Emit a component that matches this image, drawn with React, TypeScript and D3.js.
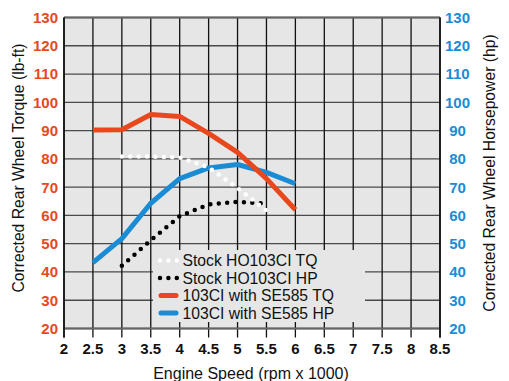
import React from "react";
import * as d3 from "d3";

const rpm = [2.5, 3, 3.5, 4, 4.5, 5, 5.5, 6];
const se585TQ = [90.2, 90.3, 95.7, 95.0, 89, 82.3, 73, 62];
const se585HP = [43.3, 51.8, 64.3, 73, 76.8, 78, 75.2, 71.2];
const stockRpm = [3, 3.5, 4, 4.5, 5, 5.5];
const stockTQ = [80.8, 80.8, 80.5, 77, 69.7, 61.7];
const stockHP = [42.2, 51.2, 59.7, 63.9, 64.8, 64.2];
const xTicks = [2, 2.5, 3, 3.5, 4, 4.5, 5, 5.5, 6, 6.5, 7, 7.5, 8, 8.5];
const yTicks = [20, 30, 40, 50, 60, 70, 80, 90, 100, 110, 120, 130];
const legendLabels = ["Stock HO103CI TQ", "Stock HO103CI HP", "103CI with SE585 TQ", "103CI with SE585 HP"];

const W = 509, H = 381;
const L = 64, R = 440, T = 17.5, B = 328.5;
const ORANGE = "#e8481c";
const BLUE = "#1a8bd5";
const FONT = "'Liberation Sans', Arial, sans-serif";

export default function App() {
  const x = d3.scaleLinear().domain([2, 8.5]).range([L, R]);
  const y = d3.scaleLinear().domain([20, 130]).range([B, T]);
  const line = d3.line<[number, number]>().x(d => x(d[0])).y(d => y(d[1]));
  const zip = (a: number[], b: number[]) => a.map((v, i) => [v, b[i]] as [number, number]);

  const legendX = 153, legendY = 250, legendW = 212, legendH = 72;
  const rows = [260.5, 278, 295.5, 313];

  return (
    <svg width={W} height={H} style={{ position: "absolute", left: 0, top: 0, background: "#fff" }} fontFamily={FONT}>
      <rect x={L} y={T} width={R - L} height={B - T} fill="#e6e6e6" />
      {yTicks.map(t => (
        <line key={"h" + t} x1={L} x2={R} y1={y(t)} y2={y(t)} stroke="#4a4a4a" strokeWidth={1.3} />
      ))}
      {xTicks.map(t => (
        <line key={"v" + t} x1={x(t)} x2={x(t)} y1={T} y2={B + 9} stroke="#111" strokeWidth={1.3} />
      ))}
      <line x1={L} x2={R} y1={T} y2={T} stroke="#666" strokeWidth={2} />
      <line x1={L} x2={R} y1={B} y2={B} stroke="#666" strokeWidth={2} />
      <line x1={L} x2={L} y1={T} y2={B + 9} stroke="#111" strokeWidth={1.6} />
      <line x1={R} x2={R} y1={T} y2={B + 9} stroke="#111" strokeWidth={1.6} />

      <path d={line(zip(rpm, se585HP)) || ""} fill="none" stroke={BLUE} strokeWidth={5} strokeLinejoin="round" />
      <path d={line(zip(rpm, se585TQ)) || ""} fill="none" stroke={ORANGE} strokeWidth={5} strokeLinejoin="round" />
      <path d={line(zip(stockRpm, stockHP)) || ""} fill="none" stroke="#000" strokeWidth={4.5} strokeLinecap="round" strokeDasharray="0 8.4" />
      <path d={line(zip(stockRpm, stockTQ)) || ""} fill="none" stroke="#fff" strokeWidth={4.5} strokeLinecap="round" strokeDasharray="0 8.4" />

      <rect x={legendX} y={legendY} width={legendW} height={legendH} fill="#e6e6e6" />
      {legendLabels.map((lab, i) => {
        const cy = rows[i];
        const sym = i === 0 ? (
          <line x1={160} x2={177} y1={cy} y2={cy} stroke="#fff" strokeWidth={4.5} strokeLinecap="round" strokeDasharray="0 8.4" />
        ) : i === 1 ? (
          <line x1={160} x2={177} y1={cy} y2={cy} stroke="#000" strokeWidth={4.5} strokeLinecap="round" strokeDasharray="0 8.4" />
        ) : (
          <line x1={161} x2={176} y1={cy} y2={cy} stroke={i === 2 ? ORANGE : BLUE} strokeWidth={5} strokeLinecap="round" />
        );
        return (
          <g key={lab}>
            {sym}
            <text x={182.5} y={cy} dy="0.36em" fontSize={15.7} fill="#111">{lab}</text>
          </g>
        );
      })}

      {yTicks.map(t => (
        <text key={"yl" + t} x={58} y={y(t)} dy="0.36em" textAnchor="end" fontSize={15} fontWeight="bold" fill={ORANGE}>{t}</text>
      ))}
      {yTicks.map(t => (
        <text key={"yr" + t} x={457.5} y={y(t)} dy="0.36em" textAnchor="middle" fontSize={15} fontWeight="bold" fill={BLUE}>{t}</text>
      ))}
      {xTicks.map(t => (
        <text key={"xl" + t} x={x(t)} y={349} dy="0.36em" textAnchor="middle" fontSize={15} fontWeight="bold" fill="#111">{t}</text>
      ))}

      <text x={251} y={373} dy="0.36em" textAnchor="middle" fontSize={16} fill="#111">Engine Speed (rpm x 1000)</text>
      <text transform={`translate(18,168) rotate(-90)`} dy="0.36em" textAnchor="middle" fontSize={15.7} fill="#111">Corrected Rear Wheel Torque (lb-ft)</text>
      <text transform={`translate(489,173) rotate(-90)`} dy="0.36em" textAnchor="middle" fontSize={15.7} fill="#111">Corrected Rear Wheel Horsepower (hp)</text>
    </svg>
  );
}
